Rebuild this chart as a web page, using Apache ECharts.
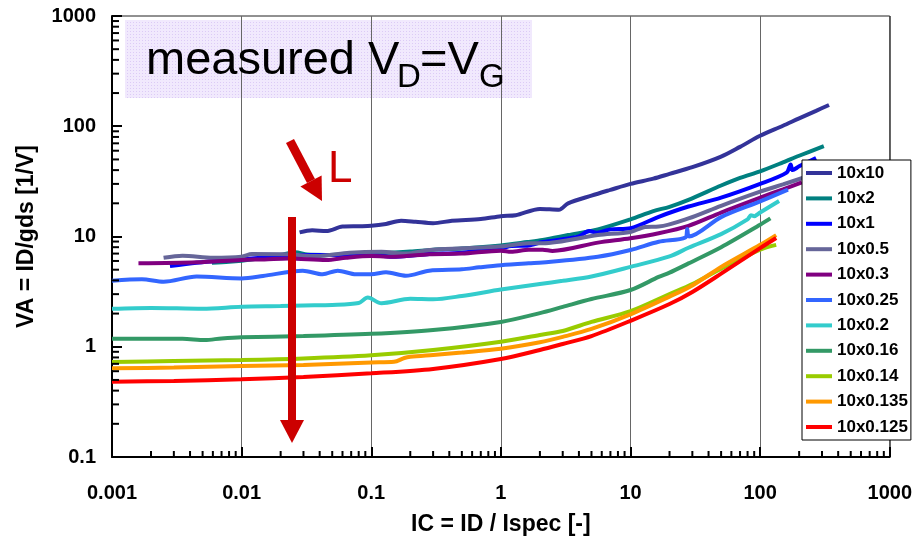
<!DOCTYPE html>
<html>
<head>
<meta charset="utf-8">
<script src="https://cdn.jsdelivr.net/npm/echarts@6/dist/echarts.min.js"></script>
<style>
  html, body { margin: 0; padding: 0; background: #fff; }
  #chart { width: 915px; height: 547px; }
</style>
</head>
<body>
<div id="chart"></div>
<script>
// Output conductance ratio VA = ID/gds versus inversion coefficient, per device geometry (W x L)
const seriesNames = ['10x10', '10x2', '10x1', '10x0.5', '10x0.3', '10x0.25', '10x0.2', '10x0.16', '10x0.14', '10x0.135', '10x0.125'];
const seriesColors = ['#333399', '#008080', '#0000ff', '#666699', '#800080', '#3366ff', '#33cccc', '#339966', '#99cc00', '#ff9900', '#ff0000'];

const xTicks = [0.001, 0.01, 0.1, 1, 10, 100, 1000];
const yTicks = [0.1, 1, 10, 100, 1000];

const ic_10x10 = [0.028, 0.035, 0.045, 0.06, 0.08, 0.1, 0.13, 0.17, 0.22, 0.3, 0.42, 0.7, 1.0, 1.3, 2.0, 2.8, 3.3, 5, 7, 10, 15, 20, 30, 50, 70, 100, 150, 200, 270, 340];
const va_10x10 = [10.9, 11.4, 11.2, 12.3, 12.4, 12.5, 13.0, 13.9, 13.6, 13.2, 13.9, 14.4, 15.3, 15.6, 17.8, 17.5, 20.0, 23.5, 26.5, 30.0, 33.5, 37, 42.5, 53, 65, 82, 101, 118, 138, 156];

const ic_10x2 = [0.0059, 0.008, 0.01, 0.015, 0.02, 0.026, 0.032, 0.045, 0.07, 0.1, 0.2, 0.3, 0.5, 1, 1.6, 2.1, 3.3, 5.6, 10, 15, 20, 28, 50, 70, 100, 150, 200, 310];
const va_10x2 = [5.78, 5.9, 6.04, 6.4, 6.8, 7.2, 6.85, 6.8, 6.9, 7.0, 7.3, 7.6, 7.8, 8.3, 8.9, 9.3, 10.3, 11.6, 14.3, 17.0, 18.6, 21.5, 29, 34, 39, 47, 54, 66];

const ic_10x1 = [0.0028, 0.0045, 0.01, 0.02, 0.03, 0.06, 0.1, 0.14, 0.28, 0.5, 1, 1.2, 1.64, 2.1, 3.3, 4.0, 4.8, 5.5, 7, 10, 16.5, 28, 50, 100, 160, 172, 178, 200, 270];
const va_10x1 = [5.39, 5.79, 6.21, 6.6, 6.78, 6.8, 6.78, 6.56, 6.93, 7.13, 7.81, 8.2, 8.3, 8.9, 9.6, 10.0, 11.2, 10.8, 11.6, 11.9, 15.1, 18.7, 22.5, 30, 38, 45, 40, 43.3, 51.5];

const ic_10x05 = [0.0025, 0.0035, 0.006, 0.01, 0.012, 0.022, 0.038, 0.068, 0.12, 0.185, 0.28, 0.5, 1, 1.64, 2.1, 5.6, 10, 13, 16.5, 28, 50, 100, 150, 230];
const va_10x05 = [6.42, 6.7, 6.42, 6.56, 6.93, 6.9, 6.64, 7.13, 7.28, 7.0, 7.55, 7.81, 8.1, 8.7, 8.7, 10.3, 11.0, 12.2, 12.3, 14.6, 19.0, 25.5, 29.7, 35];

const ic_10x03 = [0.0016, 0.0045, 0.01, 0.015, 0.023, 0.045, 0.064, 0.1, 0.155, 0.28, 0.5, 1, 1.2, 1.64, 2.1, 2.5, 5.6, 10, 16.5, 28, 50, 100, 150, 210];
const va_10x03 = [5.71, 5.83, 6.13, 6.2, 6.33, 6.13, 6.42, 6.64, 6.56, 6.91, 7.0, 7.44, 7.28, 7.6, 7.6, 7.4, 8.8, 9.64, 10.7, 12.5, 16.5, 22.5, 26.8, 31];

const ic_10x025 = [0.001, 0.0017, 0.0025, 0.0045, 0.01, 0.0146, 0.0296, 0.0422, 0.0551, 0.0763, 0.1, 0.13, 0.185, 0.28, 0.5, 0.68, 1, 1.64, 2.1, 5.6, 10, 16.5, 26.5, 27.4, 28.3, 50, 100, 164];
const va_10x025 = [3.97, 4.09, 3.89, 4.33, 4.17, 4.38, 4.9, 4.54, 4.9, 4.54, 4.54, 4.74, 4.41, 4.9, 5.04, 5.25, 5.49, 5.71, 5.8, 6.56, 7.55, 8.95, 9.8, 11.7, 10.0, 15.0, 20.8, 26.6];

const ic_10x02 = [0.001, 0.002, 0.005, 0.01, 0.02, 0.03, 0.05, 0.08, 0.094, 0.12, 0.2, 0.3, 0.5, 1, 2, 3, 5, 10, 20, 28, 50, 80, 85, 90, 100, 140];
const va_10x02 = [2.21, 2.25, 2.21, 2.31, 2.34, 2.37, 2.39, 2.49, 2.79, 2.48, 2.72, 2.69, 2.89, 3.3, 3.71, 3.96, 4.33, 5.3, 6.6, 7.9, 10.5, 14.3, 15.6, 15.3, 16.5, 21];

const ic_10x016 = [0.001, 0.002, 0.0035, 0.0052, 0.007, 0.01, 0.03, 0.1, 0.3, 1, 2, 3, 5, 10, 16.5, 20, 28, 50, 100, 120];
const va_10x016 = [1.18, 1.18, 1.18, 1.15, 1.19, 1.22, 1.25, 1.31, 1.42, 1.68, 2.02, 2.3, 2.71, 3.27, 4.3, 4.7, 5.7, 8.0, 12.8, 14.6];

const ic_10x014 = [0.001, 0.003, 0.01, 0.03, 0.1, 0.3, 1, 2, 3, 5, 10, 20, 30, 50, 100, 133];
const va_10x014 = [0.727, 0.743, 0.758, 0.783, 0.836, 0.934, 1.11, 1.28, 1.39, 1.68, 2.1, 3.0, 3.7, 5.1, 7.6, 8.4];

const ic_10x0135 = [0.001, 0.003, 0.01, 0.03, 0.1, 0.15, 0.18, 0.2, 0.3, 0.5, 1, 2, 3, 5, 10, 20, 30, 50, 100, 133];
const va_10x0135 = [0.637, 0.648, 0.669, 0.684, 0.72, 0.73, 0.79, 0.81, 0.843, 0.887, 0.96, 1.10, 1.23, 1.45, 1.97, 2.85, 3.6, 5.3, 8.4, 10.3];

const ic_10x0125 = [0.001, 0.003, 0.01, 0.03, 0.1, 0.3, 1, 2, 3, 5, 10, 20, 30, 50, 100, 133];
const va_10x0125 = [0.482, 0.49, 0.507, 0.532, 0.574, 0.629, 0.774, 0.935, 1.06, 1.25, 1.72, 2.44, 3.14, 4.6, 7.85, 9.7];

const curves = [
  [ic_10x10, va_10x10], [ic_10x2, va_10x2], [ic_10x1, va_10x1], [ic_10x05, va_10x05],
  [ic_10x03, va_10x03], [ic_10x025, va_10x025], [ic_10x02, va_10x02], [ic_10x016, va_10x016],
  [ic_10x014, va_10x014], [ic_10x0135, va_10x0135], [ic_10x0125, va_10x0125]
];

const FONT = 'Liberation Sans, Arial, sans-serif';
const fmt = v => String(Number(Number(v).toPrecision(3)));

// 2..9 sub-decade tick positions between consecutive major ticks
function subDecades(majors) {
  const out = [];
  for (let i = 0; i < majors.length - 1; i++) {
    for (let k = 2; k <= 9; k++) out.push(Number((majors[i] * k).toPrecision(3)));
  }
  return out;
}
const xMinor = subDecades(xTicks);
const yMinor = subDecades(yTicks);

// light lavender dotted fill for the caption box
function dotPattern() {
  const c = document.createElement('canvas');
  c.width = 3; c.height = 3;
  const g = c.getContext('2d');
  g.fillStyle = '#f1e9fd';
  g.fillRect(0, 0, 3, 3);
  g.fillStyle = '#dccbf6';
  g.fillRect(1, 1, 1, 1);
  return c;
}

const series = curves.map((pair, i) => ({
  name: seriesNames[i],
  type: 'line',
  data: pair[0].map((x, k) => [x, pair[1][k]]),
  showSymbol: false,
  symbol: 'none',
  smooth: 0.3,
  lineStyle: { width: 4, color: seriesColors[i] },
  itemStyle: { color: seriesColors[i] },
  z: 2
}));

// minor tick marks on the bottom and left axes, placed through the axes' log scales
series.push({
  type: 'custom', clip: false, z: 6, silent: true,
  data: xMinor.map(v => [v, yTicks[0]]),
  renderItem: (params, api) => {
    const p = api.coord([api.value(0), api.value(1)]);
    return { type: 'rect', shape: { x: p[0] - 1, y: p[1] - 6, width: 2, height: 6 }, style: { fill: '#000' } };
  }
});
series.push({
  type: 'custom', clip: false, z: 6, silent: true,
  data: yMinor.map(v => [xTicks[0], v]),
  renderItem: (params, api) => {
    const p = api.coord([api.value(0), api.value(1)]);
    return { type: 'rect', shape: { x: p[0], y: p[1] - 1, width: 7, height: 2 }, style: { fill: '#000' } };
  }
});

const red = '#cc0000';

const option = {
  animation: false,
  backgroundColor: '#fff',
  grid: {
    left: 112, right: 23, top: 16, bottom: 90,
    show: true, borderColor: '#222', borderWidth: 1, backgroundColor: 'transparent'
  },
  xAxis: {
    type: 'log', logBase: 10, min: xTicks[0], max: xTicks[xTicks.length - 1],
    name: 'IC = ID / Ispec [-]',
    nameLocation: 'middle', nameGap: 56,
    nameTextStyle: { fontFamily: FONT, fontWeight: 'bold', fontSize: 23, color: '#000' },
    axisLine: { show: true, onZero: false, lineStyle: { color: '#000', width: 2 } },
    axisTick: { show: true, inside: true, length: 10, lineStyle: { color: '#000', width: 2 } },
    axisLabel: { formatter: fmt, margin: 26, fontFamily: FONT, fontWeight: 'bold', fontSize: 20, color: '#000' },
    splitLine: { show: true, lineStyle: { color: '#666', width: 1 } }
  },
  yAxis: {
    type: 'log', logBase: 10, min: yTicks[0], max: yTicks[yTicks.length - 1],
    name: 'VA = ID/gds [1/V]',
    nameLocation: 'middle', nameGap: 74, nameRotate: 90,
    nameTextStyle: { fontFamily: FONT, fontWeight: 'bold', fontSize: 23, color: '#000' },
    axisLine: { show: true, onZero: false, lineStyle: { color: '#000', width: 2 } },
    axisTick: { show: true, inside: true, length: 10, lineStyle: { color: '#000', width: 2 } },
    axisLabel: { formatter: fmt, margin: 16, fontFamily: FONT, fontWeight: 'bold', fontSize: 20, color: '#000' },
    splitLine: { show: false }
  },
  legend: {
    orient: 'vertical',
    left: 802, top: 160,
    padding: [3, 3, 3, 4],
    itemWidth: 26, itemHeight: 4, itemGap: 5.4,
    icon: 'rect',
    backgroundColor: '#fff',
    borderColor: '#000', borderWidth: 1,
    textStyle: { fontFamily: FONT, fontWeight: 'bold', fontSize: 17, color: '#000', lineHeight: 20 },
    data: seriesNames,
    z: 10
  },
  graphic: [
    {
      type: 'rect', z: -1,
      shape: { x: 125, y: 20, width: 407, height: 78 },
      style: { fill: { image: dotPattern(), repeat: 'repeat' } }
    },
    { type: 'text', z: 20, x: 146, y: 61,
      style: { text: 'measured V', font: '47px ' + FONT, fill: '#000', verticalAlign: 'middle' } },
    { type: 'text', z: 20, x: 397, y: 78,
      style: { text: 'D', font: '33px ' + FONT, fill: '#000', verticalAlign: 'middle' } },
    { type: 'text', z: 20, x: 420, y: 61,
      style: { text: '=V', font: '47px ' + FONT, fill: '#000', verticalAlign: 'middle' } },
    { type: 'text', z: 20, x: 479, y: 78,
      style: { text: 'G', font: '33px ' + FONT, fill: '#000', verticalAlign: 'middle' } },
    // diagonal arrow
    { type: 'polygon', z: 20,
      shape: { points: [[286, 143.1], [294, 138.9], [315, 178.9], [307, 183.1]] },
      style: { fill: red } },
    { type: 'polygon', z: 20,
      shape: { points: [[300.4, 186.6], [321.6, 175.4], [322, 201]] },
      style: { fill: red } },
    { type: 'text', z: 20, x: 328, y: 170,
      style: { text: 'L', font: '44px ' + FONT, fill: red, verticalAlign: 'middle' } },
    // vertical arrow
    { type: 'rect', z: 20,
      shape: { x: 288, y: 217, width: 8, height: 204 },
      style: { fill: red } },
    { type: 'polygon', z: 20,
      shape: { points: [[280, 420], [304, 420], [292, 443]] },
      style: { fill: red } }
  ],
  series: series
};

const chart = echarts.init(document.getElementById('chart'), null, { renderer: 'canvas' });
chart.setOption(option);
</script>
</body>
</html>
